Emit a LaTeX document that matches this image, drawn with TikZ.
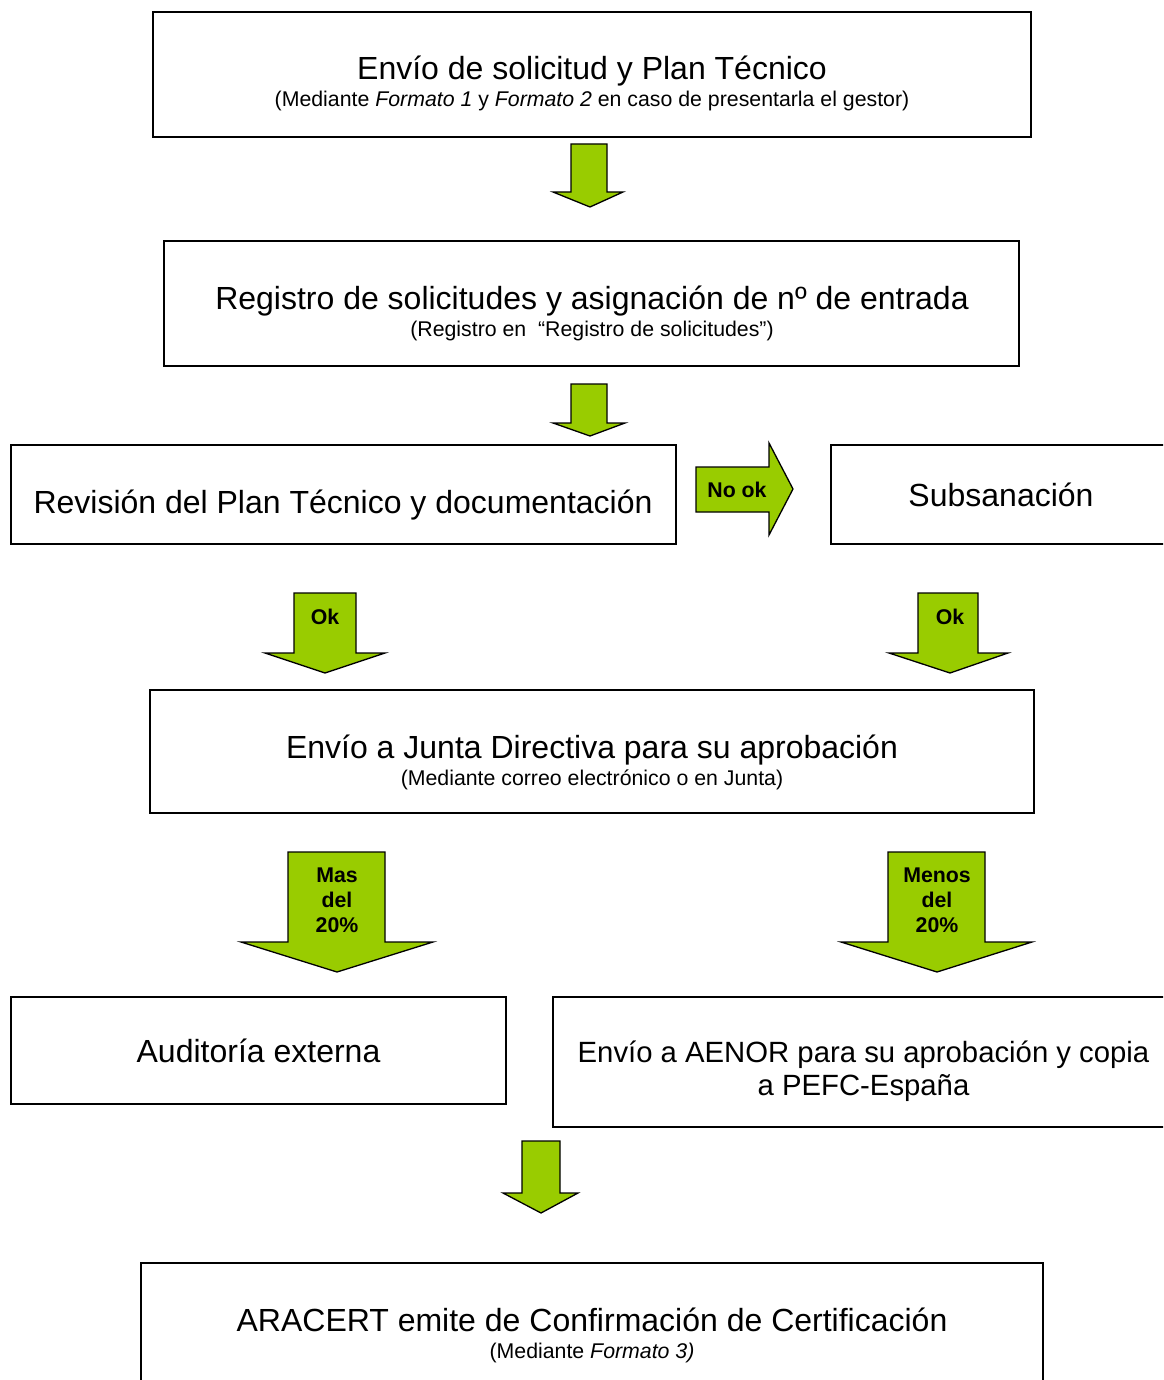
\documentclass[tikz,border=0pt]{standalone}
\usepackage{fontspec}
\setmainfont{Liberation Sans}
\usetikzlibrary{fit}
\definecolor{agreen}{HTML}{99CC00}
\tikzset{
  box/.style={draw=black, line width=2pt, inner sep=0pt, rectangle},
  garrow/.style={draw=black, fill=agreen, line width=1.3pt, line join=miter},
  ttl/.style={anchor=base, inner sep=0pt, font=\fontsize{32}{38}\selectfont},
  ttlsmall/.style={anchor=base, inner sep=0pt, font=\fontsize{29.3}{34}\selectfont},
  sub/.style={anchor=base, inner sep=0pt, font=\fontsize{21.3}{25}\selectfont},
  lbl/.style={anchor=base, inner sep=0pt, font=\fontsize{21.3}{25}\selectfont\bfseries},
}
\begin{document}
\begin{tikzpicture}[x=1pt, y=-1pt]
\useasboundingbox (0,0) rectangle (1163,1380);
\clip (0,0) rectangle (1163,1380);

% boxes
\coordinate (p1a) at (153,12);   \coordinate (p1b) at (1031,137);
\coordinate (p2a) at (164,241);  \coordinate (p2b) at (1019,366);
\coordinate (p3a) at (11,445);   \coordinate (p3b) at (676,544);
\coordinate (p4a) at (831,445);  \coordinate (p4b) at (1175,544);
\coordinate (p5a) at (150,690);  \coordinate (p5b) at (1034,813);
\coordinate (p6a) at (11,997);   \coordinate (p6b) at (506,1104);
\coordinate (p7a) at (553,997);  \coordinate (p7b) at (1175,1127);
\coordinate (p8a) at (141,1263); \coordinate (p8b) at (1043,1400);

\node[box, fit=(p1a)(p1b)] (b1) {};
\node[box, fit=(p2a)(p2b)] (b2) {};
\node[box, fit=(p3a)(p3b)] (b3) {};
\node[box, fit=(p4a)(p4b)] (b4) {};
\node[box, fit=(p5a)(p5b)] (b5) {};
\node[box, fit=(p6a)(p6b)] (b6) {};
\node[box, fit=(p7a)(p7b)] (b7) {};
\node[box, fit=(p8a)(p8b)] (b8) {};

% texts
\node[ttl] (t1) at (592,80) {Envío de solicitud y Plan Técnico};
\node[sub] (s1) at (592,107) {(Mediante \textit{Formato 1} y \textit{Formato 2} en caso de presentarla el gestor)};
\node[ttl] (t2) at (592,309) {Registro de solicitudes y asignación de nº de entrada};
\node[sub] (s2) at (592,336) {(Registro en\ \ “Registro de solicitudes”)};
\node[ttl] (t3) at (343,513) {Revisión del Plan Técnico y documentación};
\node[ttl] (t4) at (1001,506) {Subsanación};
\node[ttl] (t5) at (592,758) {Envío a Junta Directiva para su aprobación};
\node[sub] (s5) at (592,785) {(Mediante correo electrónico o en Junta)};
\node[ttl] (t6) at (258.5,1062) {Auditoría externa};
\node[ttlsmall] (t7a) at (863.5,1062.5) {Envío a AENOR para su aprobación y copia};
\node[ttlsmall] (t7b) at (863.5,1095.5) {a PEFC-España};
\node[ttl] (t8) at (592,1331) {ARACERT emite de Confirmación de Certificación};
\node[sub] (s8) at (592,1358) {(Mediante \textit{Formato 3)}};

% block arrows
\draw[garrow] (571,144) -- (607,144) -- (607,192) -- (623,192) -- (590,207) -- (553,192) -- (571,192) -- cycle;
\draw[garrow] (571,384) -- (607,384) -- (607,423) -- (625,423) -- (590,436) -- (553,423) -- (571,423) -- cycle;
\draw[garrow] (696,467) -- (769,467) -- (769,443) -- (793,489) -- (769,535) -- (769,512) -- (696,512) -- cycle;
\draw[garrow] (294,593) -- (356,593) -- (356,653) -- (385,653) -- (325,673) -- (265,653) -- (294,653) -- cycle;
\draw[garrow] (918,593) -- (978,593) -- (978,653) -- (1008,653) -- (950,673) -- (889,653) -- (918,653) -- cycle;
\draw[garrow] (288,852) -- (385,852) -- (385,942) -- (433,942) -- (337,972) -- (241,942) -- (288,942) -- cycle;
\draw[garrow] (888,852) -- (985,852) -- (985,942) -- (1032,942) -- (937,972) -- (841,942) -- (888,942) -- cycle;
\draw[garrow] (522,1141) -- (560,1141) -- (560,1193) -- (578,1193) -- (541,1213) -- (503,1193) -- (522,1193) -- cycle;

% arrow labels
\node[lbl] (lno) at (737,497) {No ok};
\node[lbl] (lok1) at (325,624) {Ok};
\node[lbl] (lok2) at (950,624) {Ok};
\node[lbl] (lm1) at (337,882) {Mas};
\node[lbl] (lm2) at (337,907) {del};
\node[lbl] (lm3) at (337,932) {20\%};
\node[lbl] (ln1) at (937,882) {Menos};
\node[lbl] (ln2) at (937,907) {del};
\node[lbl] (ln3) at (937,932) {20\%};
\end{tikzpicture}
\end{document}
